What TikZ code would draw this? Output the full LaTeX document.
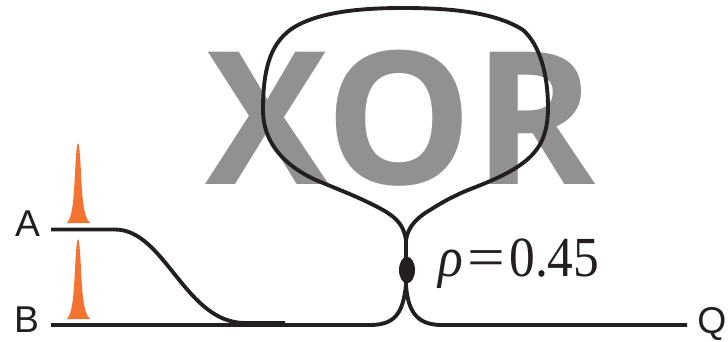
\documentclass[tikz,border=0pt]{standalone}
\usepackage{fontspec}
\usetikzlibrary{shapes.geometric}
\setmainfont{Liberation Sans}
\newfontfamily\xorfont{Open Sans}
\newfontfamily\serf{Liberation Serif}
\definecolor{fibre}{HTML}{231F20}
\definecolor{pulse}{HTML}{F37331}
\definecolor{xorgrey}{HTML}{929091}
\tikzset{
  fibreline/.style={draw=fibre,line width=2.9pt,line cap=butt},
  pulseshape/.style={fill=pulse,draw=none},
  lab/.style={font=\fontsize{28}{28}\selectfont,text=fibre,inner sep=0pt},
}
\begin{document}
\begin{tikzpicture}[x=0.75pt,y=-0.75pt]
\useasboundingbox (0,0) rectangle (728,342);
\node[inner sep=0pt,text=xorgrey,font=\xorfont\bfseries\fontsize{139}{139}\selectfont] (xor) at (400.5,118) {XOR};
\foreach \base in {223,319}{
  \fill[pulseshape] (67,\base) .. controls (73,\base-6) and (74,\base-30) .. (75,\base-50)
     .. controls (76,\base-70) and (77,\base-80) .. (78,\base-80)
     .. controls (79,\base-80) and (80,\base-70) .. (81,\base-50)
     .. controls (82,\base-30) and (83,\base-6) .. (90,\base) -- cycle;
}
\coordinate (a0) at (51,229.5);
\coordinate (a1) at (115,229.5);
\coordinate (a2) at (245,323);
\coordinate (a3) at (285,323);
\coordinate (b0) at (51,325);
\coordinate (b1) at (370,325);
\coordinate (c0) at (406,285);
\coordinate (q0) at (687,325);
\coordinate (q1) at (442,325);
\coordinate (c1) at (406,240);
\draw[fibreline] (a0) -- (a1) .. controls (165,229.5) and (185,323) .. (a2) -- (a3);
\draw[fibreline] (b0) -- (b1) .. controls (395,325) and (403,313) .. (c0) -- (c1);
\draw[fibreline] (q0) -- (q1) .. controls (418,325) and (408,313) .. (c0);
\draw[fibreline] (c1) .. controls (404,226) and (397,218) .. (383,210)
   .. controls (365,200) and (345,192) .. (323,183)
   .. controls (295,172) and (263,150) .. (263,110)
   .. controls (263,70) and (270,45) .. (290,30)
   .. controls (315,12) and (360,8) .. (403,8)
   .. controls (450,8) and (495,12) .. (523,30)
   .. controls (540,45) and (548,75) .. (548,107)
   .. controls (548,135) and (540,150) .. (523,163)
   .. controls (500,180) and (470,188) .. (457,195)
   .. controls (447,199.5) and (438,205) .. (430,210)
   .. controls (418,217) and (408,226) .. (c1);
\node[fill=fibre,draw=none,ellipse,minimum width=12pt,minimum height=20pt,inner sep=0pt] (dot) at (407,270) {};
\node[lab] (A) at (27.5,224) {A};
\node[lab] (B) at (26.5,319.5) {B};
\node[lab] (Q) at (712,324) {Q};
\node[inner sep=0pt,anchor=base west,text=fibre,font=\serf\fontsize{38.6}{39}\selectfont] (rho) at (438,276.5) {\scalebox{1}[1.1]{\textit{ρ}\kern3.5pt\scalebox{1.3}[1]{=}\kern3pt0.45}};
\end{tikzpicture}
\end{document}
